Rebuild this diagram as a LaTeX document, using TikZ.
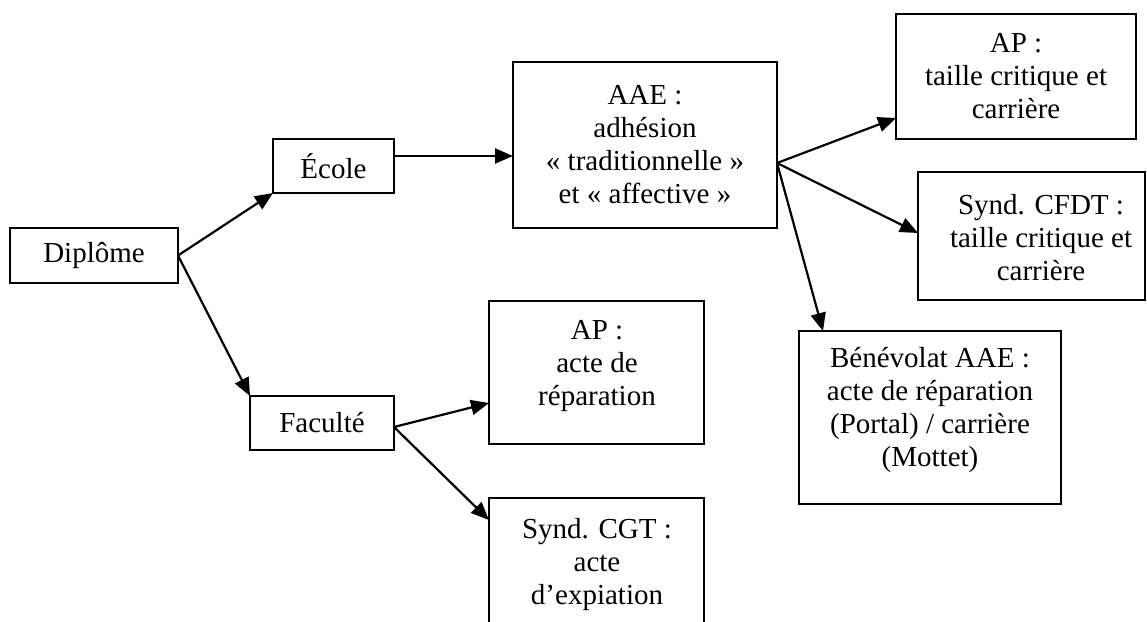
\documentclass[tikz,border=0pt]{standalone}
\usepackage{fontspec}
\setmainfont{Liberation Serif}
\usetikzlibrary{arrows.meta}
\begin{document}
\begin{tikzpicture}[x=1pt,y=-1pt,
  box/.style={draw, line width=1.8pt, inner sep=0pt, outer sep=0pt, align=center,
    font=\fontsize{29}{33}\selectfont},
  lab/.style={inner sep=0pt, align=center, font=\fontsize{29}{33}\selectfont},
  arr/.style={line width=2.2pt, -{Triangle[length=18pt,width=15pt]}}]
\useasboundingbox (0,0) rectangle (1147,621);
% boxes
\node[box, minimum width=168pt, minimum height=55pt] (dip) at (94,255.5) {Diplôme};
\node[box, minimum width=121pt, minimum height=54pt] (ecole) at (333.5,166) {École};
\node[box, minimum width=144pt, minimum height=54pt] (fac) at (322,423) {Faculté};
\node[box, minimum width=264pt, minimum height=166pt] (aae) at (645,145)
  {AAE :\\adhésion\\« traditionnelle »\\et « affective »};
\node[box, minimum width=240pt, minimum height=125pt] (ap1) at (1016,76.5)
  {AP :\\taille critique et\\carrière};
\node[box, minimum width=227pt, minimum height=128pt] (cfdt) at (1031.5,236) {};
\node[lab] (tcfdt) at (1041,238) {Synd. CFDT :\\taille critique et\\carrière};
\node[box, minimum width=262pt, minimum height=173pt] (ben) at (930,417.5) {};
\node[lab] (tben) at (930,410) {Bénévolat AAE :\\acte de réparation\\(Portal) / carrière\\(Mottet)};
\node[box, minimum width=215pt, minimum height=143pt] (ap2) at (596.5,372.5) {};
\node[lab] (tap2) at (597,366) {AP :\\acte de\\réparation};
\node[box, minimum width=215pt, minimum height=162pt] (cgt) at (596.5,579) {};
\node[lab] (tcgt) at (597,565) {Synd. CGT :\\acte\\d’expiation};
% connectors
\draw[arr] (dip.east) -- (ecole.south west);
\draw[arr] (dip.east) -- (fac.north west);
\draw[arr] ([yshift=10pt]ecole.east) -- ([yshift=10pt]ecole.east -| aae.west);
\coordinate (fan) at ([yshift=-18pt]aae.east);
\draw[arr] (fan) -- ([yshift=21pt]ap1.south west);
\draw[arr] (fan) -- ([yshift=3pt]cfdt.west);
\draw[arr] (fan) -- ([xshift=24pt]ben.north west);
\coordinate (fo) at ([yshift=-4pt]fac.east);
\draw[arr] (fo) -- ([yshift=-30.5pt]ap2.west);
\draw[arr] (fo) -- ([yshift=-22pt]cgt.north west);
\end{tikzpicture}
\end{document}
